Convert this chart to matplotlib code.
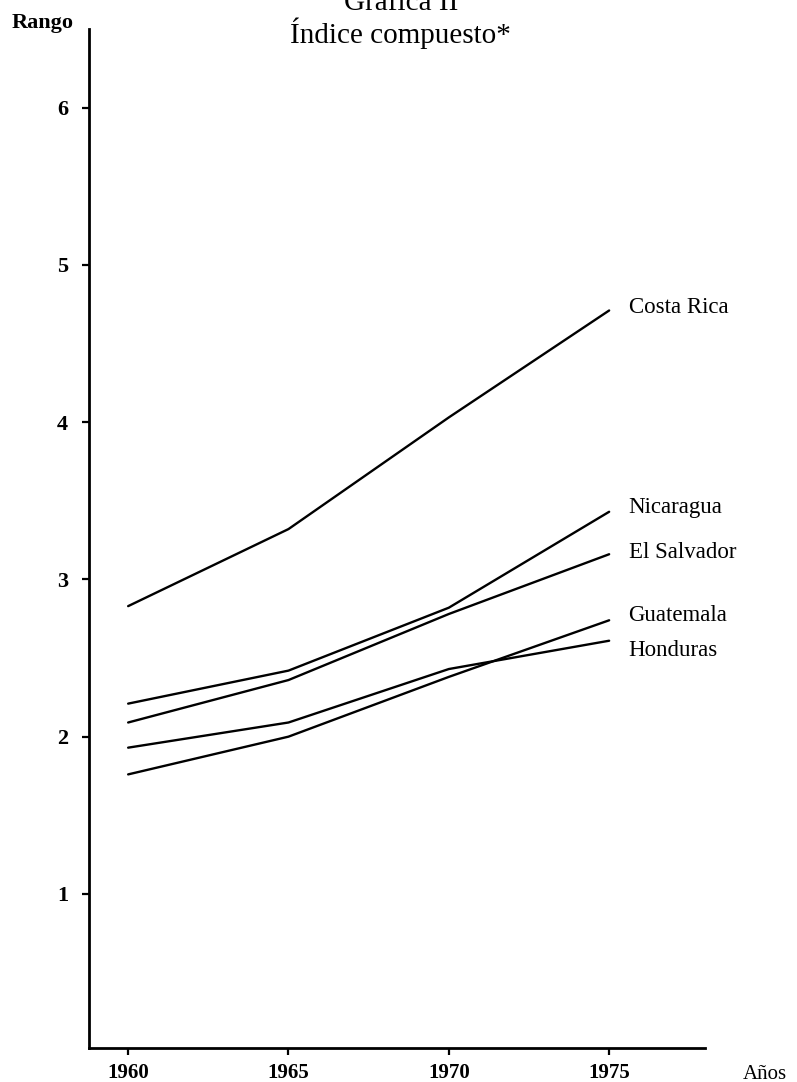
import matplotlib
matplotlib.use('Agg')
import matplotlib.pyplot as plt

plt.rcParams['font.family'] = ['Liberation Serif', 'DejaVu Serif']

# values (rango del indice compuesto)
years = [1960, 1965, 1970, 1975]
costa_rica = [2.83, 3.32, 4.03, 4.71]
nicaragua = [2.21, 2.42, 2.82, 3.43]
el_salvador = [2.09, 2.36, 2.78, 3.16]
guatemala = [1.76, 2.00, 2.38, 2.74]
honduras = [1.93, 2.09, 2.43, 2.61]
countries = ['Costa Rica', 'Nicaragua', 'El Salvador', 'Guatemala', 'Honduras']
y_ticks = [1, 2, 3, 4, 5, 6]

series = [costa_rica, nicaragua, el_salvador, guatemala, honduras]
label_nudge = [0.02, 0.03, 0.01, 0.03, -0.06]  # small vertical shifts for the end labels

fig = plt.figure(figsize=(7.97, 10.82), dpi=100)
ax = fig.add_axes([0.1117, 0.0314, 0.7729, 0.9418])

for name, vals, dy in zip(countries, series, label_nudge):
    ax.plot(years, vals, color='black', linewidth=1.7, solid_capstyle='round')
    ax.annotate(name, xy=(years[-1], vals[-1] + dy), xytext=(14, 0),
                textcoords='offset points', fontsize=16.5, va='center', ha='left')

ax.set_xlim(1958.78, 1977.99)
ax.set_ylim(0.02, 6.5)
ax.set_xticks(years)
ax.set_yticks(y_ticks)
ax.set_xticklabels([str(y) for y in years], fontsize=15, fontweight='bold')
ax.set_yticklabels([str(t) for t in y_ticks], fontsize=16, fontweight='bold')
ax.tick_params(axis='both', direction='out', length=5, width=1.6, colors='black')
ax.tick_params(axis='y', pad=10)
ax.tick_params(axis='x', pad=6)

for side in ['top', 'right']:
    ax.spines[side].set_visible(False)
for side in ['left', 'bottom']:
    ax.spines[side].set_linewidth(2.0)
    ax.spines[side].set_color('black')

fig.text(0.053, 0.979, 'Rango', fontsize=16, fontweight='bold', ha='center', va='center')
fig.text(0.960, 0.007, 'Años', fontsize=15, ha='center', va='center')
# the first title line is cut by the page edge in the scan
fig.text(0.503, 0.9975, 'Gráfica II', fontsize=21, ha='center', va='center')
fig.text(0.503, 0.9695, 'Índice compuesto*', fontsize=21, ha='center', va='center')

plt.savefig('out.png', dpi=100)
